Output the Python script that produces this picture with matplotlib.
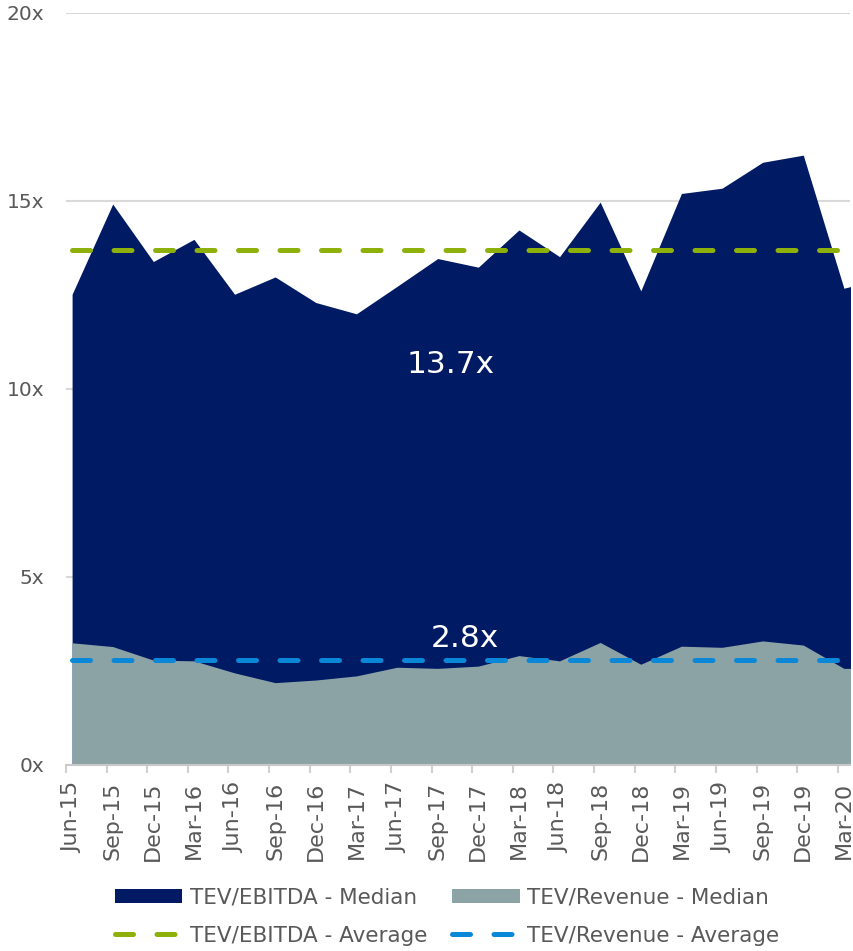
import matplotlib.pyplot as plt
import numpy as np

plt.rcParams['font.family'] = ['DejaVu Sans']

quarters = ["Jun-15", "Sep-15", "Dec-15", "Mar-16", "Jun-16", "Sep-16", "Dec-16",
            "Mar-17", "Jun-17", "Sep-17", "Dec-17", "Mar-18", "Jun-18", "Sep-18",
            "Dec-18", "Mar-19", "Jun-19", "Sep-19", "Dec-19", "Mar-20", "Jun-20"]

# TEV/EBITDA and TEV/Revenue medians (last point only partly visible)
ebitda_median = [12.52, 14.92, 13.39, 13.98, 12.52, 12.98, 12.30, 12.00, 12.73, 13.47,
                 13.24, 14.23, 13.52, 14.97, 12.61, 15.20, 15.34, 16.03, 16.22, 12.68, 12.95]
revenue_median = [3.25, 3.15, 2.79, 2.77, 2.45, 2.19, 2.26, 2.37, 2.60, 2.57,
                  2.63, 2.91, 2.77, 3.26, 2.68, 3.16, 3.13, 3.30, 3.19, 2.57, 2.57]
ebitda_avg = 13.7
revenue_avg = 2.8

navy = "#001A63"
grey = "#8CA3A6"
green = "#8DB00B"
blue = "#0A87D7"
txt = "#595959"

fig = plt.figure(figsize=(8.54, 9.51), dpi=100)
ax = fig.add_axes([66/854, 186/951, 784/854, 752/951])

x = np.arange(len(quarters))
ax.fill_between(x, 0, ebitda_median, color=navy, lw=0, label="TEV/EBITDA - Median")
ax.fill_between(x, 0, revenue_median, color=grey, lw=0, label="TEV/Revenue - Median")

ax.plot(x, [ebitda_avg] * len(x), color=green, lw=3.6, dashes=(3.6, 4.7),
        dash_capstyle="round", label="TEV/EBITDA - Average")
ax.plot(x, [revenue_avg] * len(x), color=blue, lw=3.6, dashes=(3.6, 4.7),
        dash_capstyle="round", label="TEV/Revenue - Average")

ax.text(9.33, 10.43, f"{ebitda_avg:.1f}x", color="white", fontsize=22.5, ha="center", va="baseline")
ax.text(9.68, 3.13, f"{revenue_avg:.1f}x", color="white", fontsize=22.5, ha="center", va="baseline")

ax.set_xlim(-0.14, 19.15)
ax.set_ylim(0, 20)
ax.set_yticks([0, 5, 10, 15, 20])
ax.set_yticklabels([f"{v}x" for v in [0, 5, 10, 15, 20]])
ax.yaxis.grid(True, color="#D9D9D9", lw=1.5)
ax.set_axisbelow(True)
ax.tick_params(axis="y", length=0, pad=15.8, labelsize=14.5, labelcolor=txt)

ax.set_xticks(x[:20])
ax.set_xticklabels(quarters[:20], rotation=90)
ax.tick_params(axis="x", which="major", length=0, pad=12, labelsize=16, labelcolor=txt)
ax.set_xticks(x[:20] - 0.15, minor=True)
ax.tick_params(axis="x", which="minor", length=6, width=1.5, color="#D0D0D0")

for s in ["top", "right", "left"]:
    ax.spines[s].set_visible(False)
ax.spines["bottom"].set_color("#C8C8C8")
ax.spines["bottom"].set_linewidth(1.5)

h, l = ax.get_legend_handles_labels()
order = [0, 2, 1, 3]
fig.legend([h[i] for i in order], [l[i] for i in order], ncol=2, loc="center left",
           bbox_to_anchor=(95.4/854, 34.5/951), frameon=False, fontsize=15.5, labelcolor=txt,
           handlelength=3.14, handleheight=0.6, handletextpad=0.34, columnspacing=1.16,
           labelspacing=0.85)

fig.savefig("out.png", dpi=100)
